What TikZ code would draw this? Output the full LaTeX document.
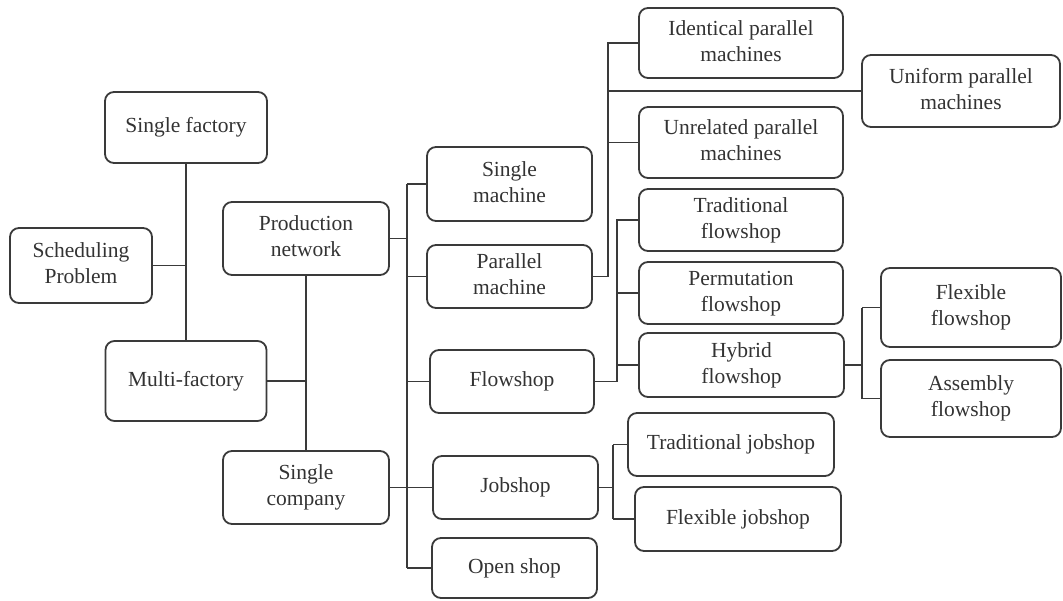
\documentclass[tikz,border=0pt]{standalone}
\usepackage{fontspec}
\setmainfont{Liberation Serif}
\usetikzlibrary{positioning,calc}

\begin{document}
\begin{tikzpicture}[x=1pt,y=-1pt]
       \definecolor{boxline}{HTML}{3A3A3A}
       \definecolor{boxtext}{HTML}{333333}
       \newcommand{\nodename}[1]{\begin{tabular}{@{}c@{}}#1\end{tabular}}
       \tikzstyle{block}     = [rectangle, rounded corners=9pt, draw = boxline, line width=1.8pt, text = boxtext, inner sep=0pt, font=\fontsize{21.5}{26}\selectfont]
       \tikzstyle{connector} = [line width=1.8pt, draw = boxline]

       \useasboundingbox (0,0) rectangle (1063,600);

       % first levels
       \node [block, minimum width=162pt, minimum height=71pt] (factory)  at (186,127.5) {\nodename{Single factory}};
       \node [block, minimum width=142pt, minimum height=75pt] (schedule) at (81,265.5)  {\nodename{Scheduling\\Problem}};
       \node [block, minimum width=161pt, minimum height=80pt] (multi)    at (186,381)   {\nodename{Multi-factory}};
       \node [block, minimum width=166pt, minimum height=73pt] (network)  at (306,238.5) {\nodename{Production\\network}};
       \node [block, minimum width=166pt, minimum height=73pt] (company)  at (306,487.5) {\nodename{Single\\company}};

       % shop types
       \node [block, minimum width=165pt, minimum height=74pt] (single)   at (509.5,184)   {\nodename{Single\\machine}};
       \node [block, minimum width=165pt, minimum height=63pt] (parallel) at (509.5,276.5) {\nodename{Parallel\\machine}};
       \node [block, minimum width=164pt, minimum height=63pt] (flowshop) at (512,381.5)   {\nodename{Flowshop}};
       \node [block, minimum width=165pt, minimum height=63pt] (jobshop)  at (515.5,487.5) {\nodename{Jobshop}};
       \node [block, minimum width=165pt, minimum height=60pt] (open)     at (514.5,568)   {\nodename{Open shop}};

       % parallel machines
       \node [block, minimum width=204pt, minimum height=70pt] (identical) at (741,43)    {\nodename{Identical parallel\\machines}};
       \node [block, minimum width=198pt, minimum height=72pt] (uniform)   at (961,91)    {\nodename{Uniform parallel\\machines}};
       \node [block, minimum width=204pt, minimum height=71pt] (unrelated) at (741,142.5) {\nodename{Unrelated parallel\\machines}};

       % flowshops
       \node [block, minimum width=204pt, minimum height=62pt] (tradflow) at (741,220)   {\nodename{Traditional\\flowshop}};
       \node [block, minimum width=204pt, minimum height=62pt] (permflow) at (741,293)   {\nodename{Permutation\\flowshop}};
       \node [block, minimum width=205pt, minimum height=64pt] (hybrid)   at (741.5,365) {\nodename{Hybrid\\flowshop}};
       \node [block, minimum width=180pt, minimum height=79pt] (flexflow) at (971,307.5) {\nodename{Flexible\\flowshop}};
       \node [block, minimum width=180pt, minimum height=77pt] (assembly) at (971,398.5) {\nodename{Assembly\\flowshop}};

       % jobshops
       \node [block, minimum width=206pt, minimum height=63pt] (tradjob) at (731,444.5) {\nodename{Traditional jobshop}};
       \node [block, minimum width=206pt, minimum height=64pt] (flexjob) at (738,519)   {\nodename{Flexible jobshop}};

       % buses
       \coordinate (trunk)   at (407,0);
       \coordinate (parbus)  at (608,0);
       \coordinate (flowbus) at (617,0);
       \coordinate (hybbus)  at (862,0);
       \coordinate (jobbus)  at (613,0);

       \draw [connector] (factory.south) -- (multi.north);
       \draw [connector] (schedule.east) -- (schedule.east -| factory.south);
       \draw [connector] (network.south) -- (company.north);
       \draw [connector] (multi.east) -- (multi.east -| network.south);

       \draw [connector] (network.east) -- (network.east -| trunk);
       \draw [connector] (company.east) -- (company.east -| trunk);
       \draw [connector] (single.west -| trunk) -- (open.west -| trunk);
       \draw [connector] (single.west -| trunk) -- (single.west);
       \draw [connector] (parallel.west -| trunk) -- (parallel.west);
       \draw [connector] (flowshop.west -| trunk) -- (flowshop.west);
       \draw [connector] (jobshop.west -| trunk) -- (jobshop.west);
       \draw [connector] (open.west -| trunk) -- (open.west);

       \draw [connector] (parallel.east) -- (parallel.east -| parbus) -- (identical.west -| parbus) -- (identical.west);
       \draw [connector] (uniform.west -| parbus) -- (uniform.west);
       \draw [connector] (unrelated.west -| parbus) -- (unrelated.west);

       \draw [connector] (flowshop.east) -- (flowshop.east -| flowbus) -- (tradflow.west -| flowbus) -- (tradflow.west);
       \draw [connector] (permflow.west -| flowbus) -- (permflow.west);
       \draw [connector] (hybrid.west -| flowbus) -- (hybrid.west);

       \draw [connector] (hybrid.east) -- (hybrid.east -| hybbus);
       \draw [connector] (flexflow.west -| hybbus) -- (assembly.west -| hybbus);
       \draw [connector] (flexflow.west -| hybbus) -- (flexflow.west);
       \draw [connector] (assembly.west -| hybbus) -- (assembly.west);

       \draw [connector] (jobshop.east) -- (jobshop.east -| jobbus);
       \draw [connector] (tradjob.west -| jobbus) -- (flexjob.west -| jobbus);
       \draw [connector] (tradjob.west -| jobbus) -- (tradjob.west);
       \draw [connector] (flexjob.west -| jobbus) -- (flexjob.west);
     \end{tikzpicture}
\end{document}
